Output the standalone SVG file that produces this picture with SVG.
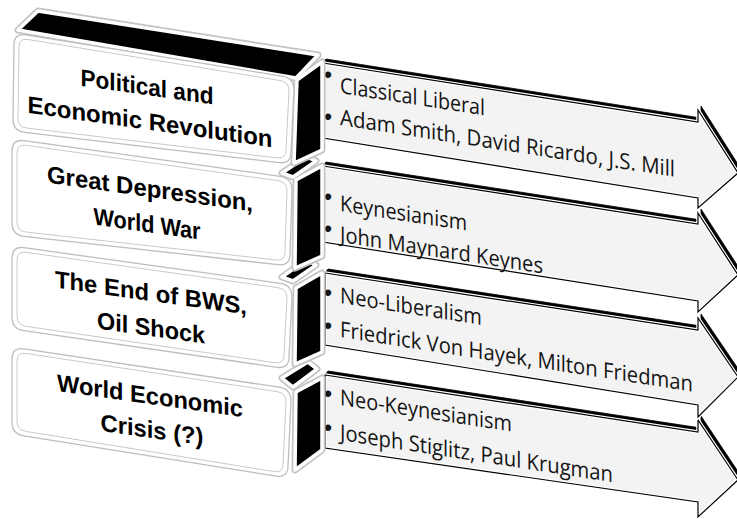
<svg xmlns="http://www.w3.org/2000/svg" xmlns:xlink="http://www.w3.org/1999/xlink" width="737" height="519" viewBox="0 0 737 519">
<style>
.halo{fill:#c4c4c4;stroke:#c4c4c4;stroke-width:7;stroke-linejoin:round}
.side{fill:#000;stroke:#fff;stroke-width:3.5;stroke-linejoin:round}
.face{fill:#fff;stroke:#bdbdbd;stroke-width:1.3}
.inner{fill:none;stroke:#c9c9c9;stroke-width:1}
.ext{fill:#000;stroke:#000;stroke-width:0.8;stroke-linejoin:round}
.afill{fill:#f3f3f3;stroke:#fff;stroke-width:3.5;stroke-linejoin:miter}
.aline{fill:none;stroke:#000;stroke-width:1.2;stroke-linejoin:miter}
.bt{font-family:"Liberation Sans",Arial,sans-serif;font-weight:bold;font-size:24px;fill:#000;text-anchor:middle}
.at{font-family:"Open Sans","Noto Sans",sans-serif;font-size:22px;fill:#151515}
.bu{font-family:"Liberation Sans",Arial,sans-serif;font-size:24px;fill:#151515;text-anchor:middle;dominant-baseline:central}
</style>
<defs>
<polygon id="a1" points="323,63 698,122 698,110 738,173 698,208 698,198 323,138"/>
<polygon id="a2" points="323,166 698,224 698,213 738,275 698,312 698,301 323,242"/>
<polygon id="a3" points="325,273 698,330 698,318 738,377 698,417 698,405 325,345"/>
<polygon id="a4" points="325,375 698,432 698,420 738,480 698,517 698,502 325,448"/>
</defs>
<rect width="737" height="519" fill="#fff"/>
<g id="connectors"/>

<g id="row4">
<g id="arrow4">
<polygon class="ext" points="325,375 698,432 698,420 738,480 741,476 701,416 701,428 328,371"/>
<use xlink:href="#a4" class="afill"/>
<use xlink:href="#a4" class="aline"/>
<text class="bu" x="328" y="393">•</text>
<text class="bu" x="328" y="427">•</text>
<text class="at" transform="translate(340,405) skewY(8.8)" textLength="172" lengthAdjust="spacingAndGlyphs">Neo-Keynesianism</text>
<text class="at" transform="translate(340,440) skewY(8.8)" textLength="273" lengthAdjust="spacingAndGlyphs">Joseph Stiglitz, Paul Krugman</text>
</g>
<g id="box4">
<polygon class="halo" points="282,378 308,362 317,369 293,387"/>
<polygon class="halo" points="296,392 322,378 322,450 295,470"/>
<polygon class="side" points="282,378 308,362 317,369 293,387"/>
<polygon class="side" points="296,392 322,378 322,450 295,470"/>
<path class="face" d="M12,359 Q12,347 23.9,348.8 L279.1,387.2 Q291,389 291,401 L288,466 Q288,478 276.2,476.1 L23.9,435.9 Q12,434 12,422 Z"/>
<path class="inner" d="M17,361 Q17,352 25.9,353.4 L277.1,391.6 Q286,393 286,402 L283,464 Q283,473 274.1,471.6 L25.9,431.4 Q17,430 17,421 Z"/>
<text class="bt" transform="translate(150,404) skewY(8)" textLength="186" lengthAdjust="spacingAndGlyphs">World Economic</text>
<text class="bt" transform="translate(152,438) skewY(8)" textLength="103" lengthAdjust="spacingAndGlyphs">Crisis (?)</text>
</g>
</g>

<g id="row3">
<g id="arrow3">
<polygon class="ext" points="325,273 698,330 698,318 738,377 741,373 701,314 701,326 328,269"/>
<use xlink:href="#a3" class="afill"/>
<use xlink:href="#a3" class="aline"/>
<text class="bu" x="328" y="292">•</text>
<text class="bu" x="328" y="325">•</text>
<text class="at" transform="translate(340,303) skewY(8.8)" textLength="142" lengthAdjust="spacingAndGlyphs">Neo-Liberalism</text>
<text class="at" transform="translate(340,337) skewY(8.8)" textLength="353" lengthAdjust="spacingAndGlyphs">Friedrick Von Hayek, Milton Friedman</text>
</g>
<g id="box3">
<polygon class="halo" points="282,277 306,260 316,265 293,281"/>
<polygon class="halo" points="296,288 322,273 322,352 295,364"/>
<polygon class="side" points="282,277 306,260 316,265 293,281"/>
<polygon class="side" points="296,288 322,273 322,352 295,364"/>
<path class="face" d="M12,258 Q12,246 23.9,247.7 L280.1,283.3 Q292,285 292,297 L289,357 Q289,369 277.1,367.3 L23.9,330.7 Q12,329 12,317 Z"/>
<path class="inner" d="M17,260 Q17,251 25.9,252.3 L278.1,287.7 Q287,289 287,298 L284,355 Q284,364 275.1,362.7 L25.9,326.3 Q17,325 17,316 Z"/>
<text class="bt" transform="translate(151,301) skewY(8)" textLength="192" lengthAdjust="spacingAndGlyphs">The End of BWS,</text>
<text class="bt" transform="translate(151,336) skewY(8)" textLength="108" lengthAdjust="spacingAndGlyphs">Oil Shock</text>
</g>
</g>

<g id="row2">
<g id="arrow2">
<polygon class="ext" points="323,166 698,224 698,213 738,275 741,271 701,209 701,220 326,162"/>
<use xlink:href="#a2" class="afill"/>
<use xlink:href="#a2" class="aline"/>
<text class="bu" x="328" y="196">•</text>
<text class="bu" x="328" y="228">•</text>
<text class="at" transform="translate(340,211) skewY(8.8)" textLength="127" lengthAdjust="spacingAndGlyphs">Keynesianism</text>
<text class="at" transform="translate(340,242) skewY(8.8)" textLength="203" lengthAdjust="spacingAndGlyphs">John Maynard Keynes</text>
</g>
<g id="box2">
<polygon class="halo" points="282,173 306,157 316,161 293,177"/>
<polygon class="halo" points="296,180 322,166 322,256 295,268"/>
<polygon class="side" points="282,173 306,157 316,161 293,177"/>
<polygon class="side" points="296,180 322,166 322,256 295,268"/>
<path class="face" d="M12,151 Q12,139 23.9,140.7 L280.1,176.3 Q292,178 292,190 L290,254 Q290,266 278.1,264.7 L23.9,236.3 Q12,235 12,223 Z"/>
<path class="inner" d="M17,153 Q17,144 25.9,145.3 L278.1,180.7 Q287,182 287,191 L285,252 Q285,261 276.1,260 L25.9,232 Q17,231 17,222 Z"/>
<text class="bt" transform="translate(150,197) skewY(8)" textLength="206" lengthAdjust="spacingAndGlyphs">Great Depression,</text>
<text class="bt" transform="translate(147,232) skewY(8)" textLength="107" lengthAdjust="spacingAndGlyphs">World War</text>
</g>
</g>

<g id="row1">
<g id="arrow1">
<polygon class="ext" points="323,63 698,122 698,110 738,173 741,169 701,106 701,118 326,59"/>
<use xlink:href="#a1" class="afill"/>
<use xlink:href="#a1" class="aline"/>
<text class="bu" x="328" y="74">•</text>
<text class="bu" x="328" y="116">•</text>
<text class="at" transform="translate(340,93) skewY(8.8)" textLength="145" lengthAdjust="spacingAndGlyphs">Classical Liberal</text>
<text class="at" transform="translate(340,125) skewY(8.8)" textLength="335" lengthAdjust="spacingAndGlyphs">Adam Smith, David Ricardo, J.S. Mill</text>
</g>
<g id="box1">
<polygon class="halo" points="18,30 38,11 318,55 296,78"/>
<polygon class="halo" points="297,80 322,62 322,150 294,163"/>
<polygon class="side" points="18,30 38,11 318,55 296,78"/>
<polygon class="side" points="297,80 322,62 322,150 294,163"/>
<path class="face" d="M14,45 Q14,33 25.9,34.9 L282.1,76.1 Q294,78 294,90 L291,152 Q291,164 279.1,162.6 L24.9,132.4 Q13,131 13,119 Z"/>
<path class="inner" d="M19,47 Q19,38 27.9,39.5 L280.1,80.5 Q289,82 289,91 L286,150 Q286,159 277.1,157.9 L26.9,128.1 Q18,127 18,118 Z"/>
<text class="bt" transform="translate(147,95) skewY(8)" textLength="133" lengthAdjust="spacingAndGlyphs">Political and</text>
<text class="bt" transform="translate(150,130) skewY(8)" textLength="245" lengthAdjust="spacingAndGlyphs">Economic Revolution</text>
</g>
</g>
</svg>
